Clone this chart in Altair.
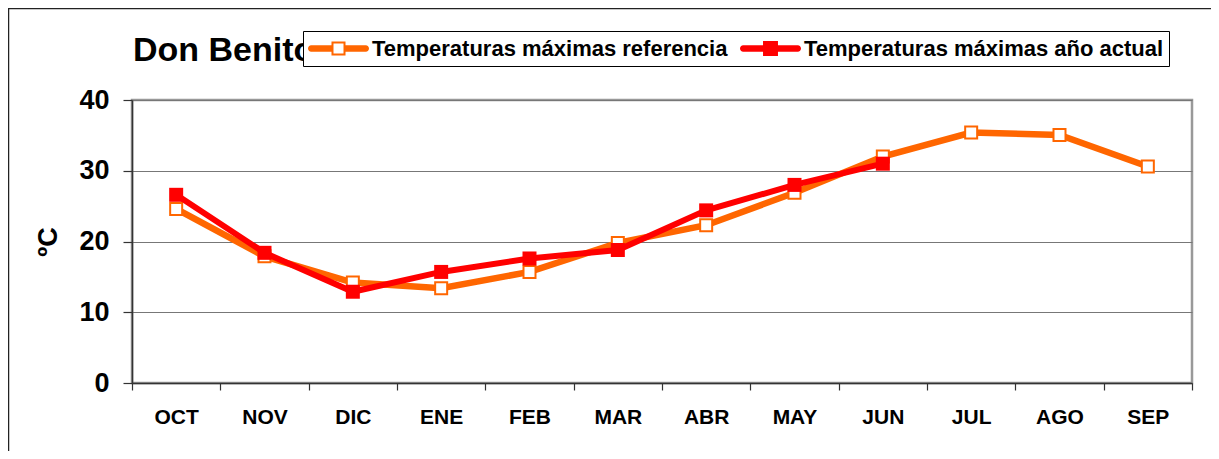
import altair as alt
import pandas as pd

# ---- data ----
meses = ["OCT", "NOV", "DIC", "ENE", "FEB", "MAR", "ABR", "MAY", "JUN", "JUL", "AGO", "SEP"]
ref_vals = [24.6, 17.9, 14.2, 13.4, 15.7, 19.8, 22.3, 26.9, 32.0, 35.4, 35.05, 30.6]
act_vals = [26.6, 18.4, 12.9, 15.7, 17.6, 18.8, 24.4, 28.0, 31.0]
series = ["Temperaturas máximas referencia", "Temperaturas máximas año actual"]
colors = ["#FF6600", "#FF0000"]
y_ticks = [0, 10, 20, 30, 40]
titulo = "Don Benito"
eje_y = "ºC"

FONT = "Liberation Sans"

df_ref = pd.DataFrame({"mes": meses[:len(ref_vals)], "valor": ref_vals})
df_act = pd.DataFrame({"mes": meses[:len(act_vals)], "valor": act_vals})
df_leg = pd.DataFrame({"serie": series})
df_one = pd.DataFrame({"texto": [titulo]})

x_enc = alt.X("mes:N", sort=meses,
              scale=alt.Scale(type="band", domain=meses, paddingInner=0, paddingOuter=0),
              axis=alt.Axis(title=None, labelAngle=0, labelFont=FONT, labelFontSize=21,
                            labelFontWeight="bold", labelColor="black", labelPadding=16,
                            tickBand="extent", tickSize=7, tickColor="#333", tickWidth=1.2,
                            domainColor="#333", domainWidth=1.5, grid=False))
y_enc = alt.Y("valor:Q", scale=alt.Scale(domain=[0, 40], nice=False, zero=True),
              axis=alt.Axis(values=y_ticks, title=eje_y, titleFont=FONT, titleFontSize=27,
                            titleFontWeight="bold", titleColor="black", titleAngle=270,
                            titleX=-84, titleY=141.5, titleBaseline="middle", titleAlign="center",
                            labelFont=FONT, labelFontSize=27, labelFontWeight="bold",
                            labelColor="black", labelPadding=14, tickSize=9, tickColor="#333",
                            tickWidth=1.2, domainColor="#333", domainWidth=1.5,
                            grid=True, gridColor="#777", gridWidth=1))

ref_line = alt.Chart(df_ref).mark_line(color=colors[0], strokeWidth=6.5).encode(x=x_enc, y=y_enc)
ref_pts = alt.Chart(df_ref).mark_point(shape="square", size=144, filled=True, fill="white",
                                        stroke=colors[0], strokeWidth=2, opacity=1).encode(x=x_enc, y=y_enc)
act_line = alt.Chart(df_act).mark_line(color=colors[1], strokeWidth=6).encode(x=x_enc, y=y_enc)
act_pts = alt.Chart(df_act).mark_point(shape="square", size=196, filled=True, fill=colors[1],
                                        strokeWidth=0, opacity=1).encode(x=x_enc, y=y_enc)

# legend symbols: line with square marker (unit box -1..1 -> 61 px)
path_ref = ("M-0.23,-0.105H-0.895A0.105,0.105 0 0 0 -0.895,0.105H-0.23Z"
            "M0.23,-0.105H0.895A0.105,0.105 0 0 1 0.895,0.105H0.23Z"
            "M-0.23,-0.23H0.23V0.23H-0.23ZM-0.164,-0.164V0.164H0.164V-0.164Z")
path_act = ("M-0.245,-0.105H-0.895A0.105,0.105 0 0 0 -0.895,0.105H-0.245Z"
            "M0.245,-0.105H0.895A0.105,0.105 0 0 1 0.895,0.105H0.245Z"
            "M-0.245,-0.245H0.245V0.245H-0.245Z")

leg = alt.Legend(title=None, orient="none", legendX=171, legendY=-69, direction="horizontal",
                 padding=5, fillColor="white", strokeColor="black",
                 labelFont=FONT, labelFontSize=22, labelFontWeight="bold", labelColor="black",
                 labelLimit=600, labelOffset=3, columnPadding=12, symbolSize=3721,
                 symbolStrokeWidth=0, symbolOpacity=1, clipHeight=25, zindex=1)

legend_layer = alt.Chart(df_leg).transform_filter("false").mark_point(filled=True, opacity=1).encode(
    color=alt.Color("serie:N", scale=alt.Scale(domain=series, range=colors), legend=leg),
    shape=alt.Shape("serie:N", scale=alt.Scale(domain=series, range=[path_ref, path_act]), legend=leg),
)

# chart title (partly hidden behind the legend box, as in the reference)
title_layer = alt.Chart(df_one).mark_text(align="left", baseline="alphabetic", font=FONT,
                                          fontSize=34, fontWeight="bold", color="black").encode(
    text="texto:N", x=alt.value(1), y=alt.value(-39))

# outer chart frame (top and left edges visible)
frame_top = alt.Chart(df_one).mark_rule(color="#222", strokeWidth=1.5).encode(
    x=alt.value(-124), x2=alt.value(1079), y=alt.value(-91.5))
frame_left = alt.Chart(df_one).mark_rule(color="#222", strokeWidth=1.5).encode(
    x=alt.value(-123.5), y=alt.value(-92), y2=alt.value(351))

chart = alt.layer(frame_top, frame_left, title_layer, ref_line, ref_pts, act_line, act_pts,
                  legend_layer).properties(
    width=1060, height=283,
    autosize=alt.AutoSizeParams(type="none"),
    padding={"left": 124, "top": 92, "right": 19, "bottom": 68},
    background="white",
).configure_view(stroke="#999", strokeWidth=2.5)

chart.save("out.html", embed_options={"renderer": "svg", "actions": False})
